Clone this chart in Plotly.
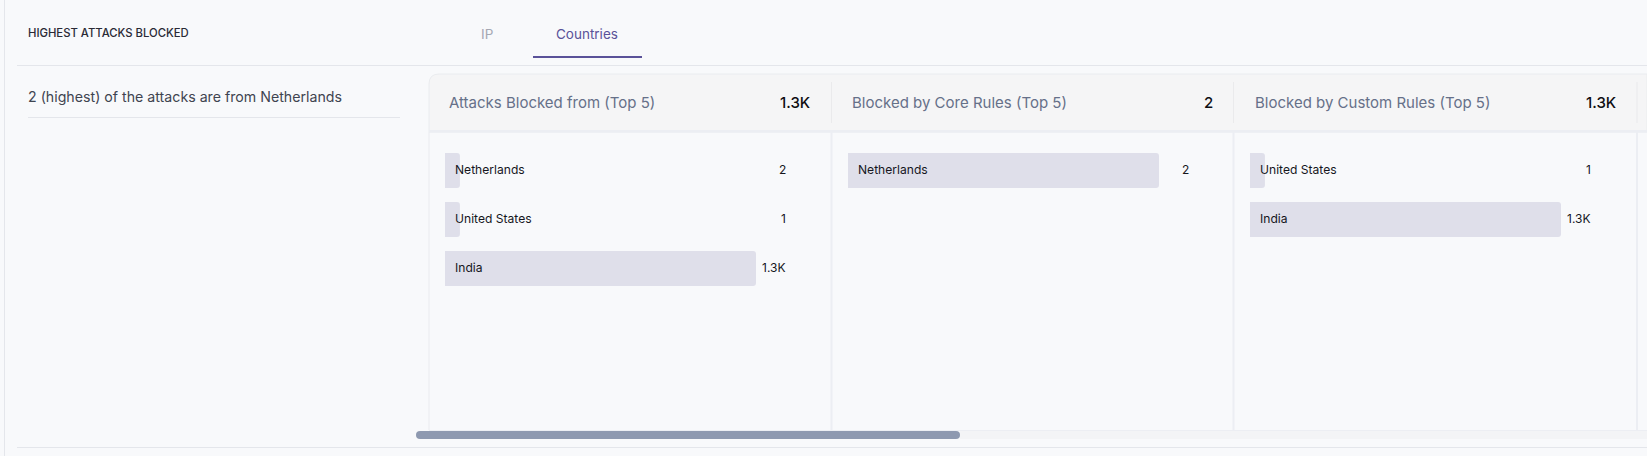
import plotly.graph_objects as go

W = 1647
H = 456

painel_titulos = ["Attacks Blocked from (Top 5)", "Blocked by Core Rules (Top 5)", "Blocked by Custom Rules (Top 5)"]
painel_totais = ["1.3K", "2", "1.3K"]
paises_1 = ["Netherlands", "United States", "India"]
valores_1 = [2, 1, 1300]
rotulos_1 = ["2", "1", "1.3K"]
paises_2 = ["Netherlands"]
valores_2 = [2]
rotulos_2 = ["2"]
paises_3 = ["United States", "India"]
valores_3 = [1, 1300]
rotulos_3 = ["1", "1.3K"]

paineis = [
    (paises_1, valores_1, rotulos_1),
    (paises_2, valores_2, rotulos_2),
    (paises_3, valores_3, rotulos_3),
]

FONTE = "Inter"
FUNDO = "#f8f9fb"
LINHA = "#e4e6eb"
BARRA = "#dfdfea"
ROXO = "#5a5299"


def px(x):
    return x / W


def py(y):
    return 1 - y / H


def ret(x0, y0, x1, y1, cor):
    return dict(type="rect", xref="paper", yref="paper", x0=px(x0), x1=px(x1), y0=py(y0), y1=py(y1),
                fillcolor=cor, line_width=0, layer="below")


def texto(x, y, s, tam, cor, anchor="left", peso=400):
    return dict(xref="paper", yref="paper", x=px(x), y=py(y), text=s, showarrow=False, xanchor=anchor,
                yanchor="middle", font=dict(family=FONTE, size=tam, color=cor, weight=peso))


fig = go.Figure()

inicio_barra = [445, 848, 1250]
largura_barra = 311
anotacoes = []

for i, (paises, valores, rotulos) in enumerate(paineis):
    n = "" if i == 0 else str(i + 1)
    # barra muito pequena ganha um tamanho minimo, como no quadro original
    maximo = max(valores)
    larguras = [max(v, maximo * 0.048) for v in valores]
    fig.add_trace(go.Bar(
        x=larguras, y=paises, orientation="h", width=0.714, marker=dict(color=BARRA, line_width=0),
        text=rotulos, textposition="none", hovertemplate="%{y}: %{text}<extra></extra>",
        xaxis="x" + n, yaxis="y" + n, showlegend=False,
    ))
    eixo_x = dict(domain=[px(inicio_barra[i]), px(inicio_barra[i] + largura_barra)], range=[0, maximo],
                  visible=False, anchor="y" + n, fixedrange=True)
    eixo_y = dict(domain=[py(391), py(146)], type="category", categoryorder="array", categoryarray=paises,
                  range=[4.5, -0.5], visible=False, anchor="x" + n, fixedrange=True)
    fig.update_layout({"xaxis" + n: eixo_x, "yaxis" + n: eixo_y})

    for pais, rotulo in zip(paises, rotulos):
        anotacoes.append(dict(xref="x" + n, yref="y" + n, x=0, y=pais, text=pais, showarrow=False, xanchor="left",
                              xshift=8, yshift=0.6, font=dict(family=FONTE, size=12.1, color="#16161d")))
        anotacoes.append(dict(xref="x" + n + " domain", yref="y" + n, x=341 / largura_barra, y=pais, text=rotulo,
                              showarrow=False, xanchor="right", xshift=1.5, yshift=0.6,
                              font=dict(family=FONTE, size=12, color="#16161d")))

# cabecalhos dos paineis
x_titulos = [446.5, 849.5, 1252.5]
x_totais = [812, 1215, 1618]
for x, titulo, total in zip(x_titulos, painel_titulos, painel_totais):
    anotacoes.append(texto(x, 102.5, titulo, 15, "#667089"))
    anotacoes.append(texto(x_totais[x_titulos.index(x)], 102.5, total, 15, "#0d0d12", "right", 500))

anotacoes += [
    texto(26, 33, "HIGHEST ATTACKS BLOCKED", 11.3, "#2a2a35", peso=500),
    texto(487, 34, "IP", 13.5, "#a5a8b3", "center"),
    texto(587, 34, "Countries", 13.5, ROXO, "center"),
    texto(26, 96.5, "2 (highest) of the attacks are from Netherlands", 14.2, "#3f4450"),
]

formas = [
    ret(4, 0, 5, H, LINHA),
    ret(17, 65, W, 66, LINHA),
    ret(533, 56, 642, 58, ROXO),
    ret(28, 117, 400, 118, LINHA),
    # cartao
    dict(type="path", xref="paper", yref="paper", layer="below", line_width=1, line_color="#eaecef", fillcolor="#f5f5f6",
         path=f"M {px(429)} {py(132)} L {px(429)} {py(84)} Q {px(429)} {py(74)} {px(439)} {py(74)} L {px(W)} {py(74)} "
              f"L {px(W)} {py(132)} Z"),
    ret(429, 130, W, 132.5, "#eceef3"),
    ret(428.5, 132, 429.5, 430, "#eaecef"),
    ret(830.5, 132, 832.5, 430, "#eceef3"),
    ret(1232.5, 132, 1234.5, 430, "#eceef3"),
    ret(1636, 132, 1638, 430, "#eceef3"),
    ret(831, 82, 832, 123, "#eaeaec"),
    ret(1233, 82, 1234, 123, "#eaeaec"),
    ret(1636.5, 82, 1637.5, 123, "#eaeaec"),
    # barra de rolagem
    ret(429, 430, W, 431, "#eceef3"),
    ret(960, 431, W, 439, "#f3f4f6"),
    dict(type="path", xref="paper", yref="paper", layer="below", line_width=0, fillcolor="#8e99b0",
         path=f"M {px(420)} {py(431)} L {px(956)} {py(431)} Q {px(960)} {py(431)} {px(960)} {py(435)} "
              f"Q {px(960)} {py(439)} {px(956)} {py(439)} L {px(420)} {py(439)} "
              f"Q {px(416)} {py(439)} {px(416)} {py(435)} Q {px(416)} {py(431)} {px(420)} {py(431)} Z"),
    ret(17, 447, W, 448, LINHA),
]

fig.update_layout(
    width=W, height=H, margin=dict(l=0, r=0, t=0, b=0),
    paper_bgcolor=FUNDO, plot_bgcolor="rgba(0,0,0,0)",
    barcornerradius=3, shapes=formas, annotations=anotacoes,
)

fig.write_html("out.html", config=dict(displayModeBar=False),
               post_script="document.body.style.margin='0';document.body.style.overflow='hidden';")
